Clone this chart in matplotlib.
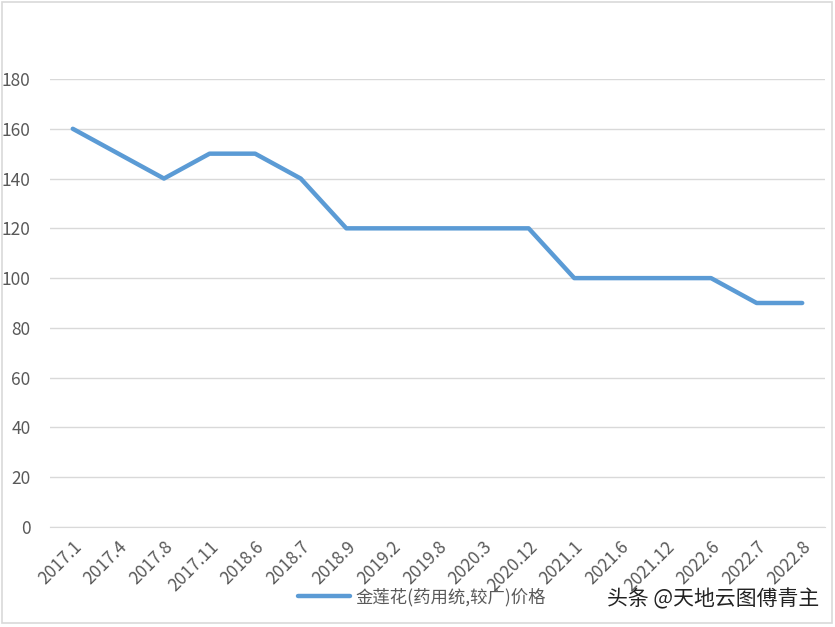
import matplotlib.pyplot as plt
from matplotlib.patches import Rectangle

plt.rcParams['font.family'] = ['Noto Sans CJK SC', 'DejaVu Sans']

dates = ["2017.1", "2017.4", "2017.8", "2017.11", "2018.6", "2018.7", "2018.9",
         "2019.2", "2019.8", "2020.3", "2020.12", "2021.1", "2021.6", "2021.12",
         "2022.6", "2022.7", "2022.8"]
price = [160, 150, 140, 150, 150, 140, 120, 120, 120, 120, 120, 100, 100, 100,
         100, 90, 90]
series_name = "金莲花(药用统,较广)价格"

fig = plt.figure(figsize=(8.35, 6.27), dpi=100)
ax = fig.add_axes([50 / 835, 1 - 527 / 627, 775 / 835, 448 / 627])

x = list(range(len(dates)))
ax.plot(x, price, color="#5B9BD5", lw=3.2, solid_capstyle="round",
        solid_joinstyle="round", label=series_name)

ax.set_xlim(-0.5, len(dates) - 0.5)
ax.set_ylim(0, 180)
ax.set_yticks(range(0, 181, 20))
ax.grid(axis="y", color="#d9d9d9", lw=1)
ax.set_axisbelow(True)
for s in ["top", "right", "left"]:
    ax.spines[s].set_visible(False)
ax.spines["bottom"].set_color("#d9d9d9")
ax.tick_params(length=0, colors="#595959", labelsize=12.5)
ax.tick_params(axis="y", pad=14)
ax.set_xticks(x)
ax.set_xticklabels(dates, rotation=45, ha="right", va="top",
                   rotation_mode="anchor")
ax.tick_params(axis="x", pad=8)

leg = fig.legend(loc="center", bbox_to_anchor=(422 / 835, 1 - 597 / 627),
                 frameon=False, fontsize=12.5, handlelength=3.0, handletextpad=0.3)
for t in leg.get_texts():
    t.set_color("#595959")

fig.text(819 / 835, 1 - 599 / 627, "头条 @天地云图傅青主", ha="right", va="center",
         fontsize=15, color="#222222")

fig.patches.append(Rectangle((1.5 / 835, 1 - 623 / 627), 830.5 / 835, 621.5 / 627,
                             transform=fig.transFigure, fill=False,
                             edgecolor="#d9d9d9", lw=1.2))

fig.savefig("out.png", dpi=100)
